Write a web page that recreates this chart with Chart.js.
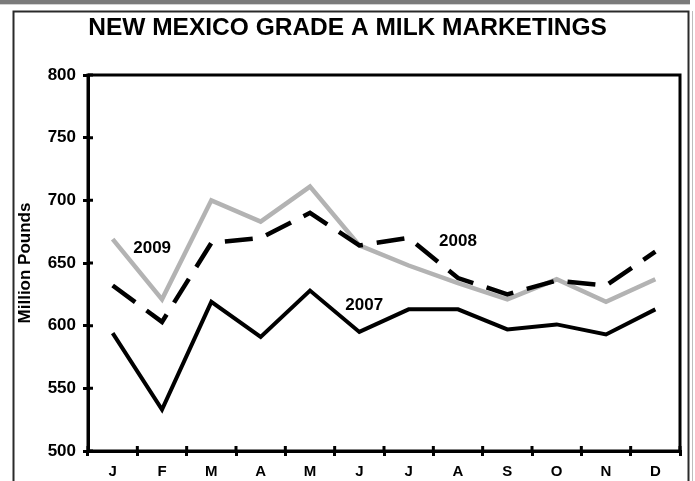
<!DOCTYPE html>
<html>
<head>
<meta charset="utf-8">
<script src="https://cdn.jsdelivr.net/npm/chart.js@4.4.1/dist/chart.umd.min.js"></script>
<style>
  html, body { margin: 0; padding: 0; background: #fff; }
  canvas { display: block; }
</style>
</head>
<body>
<canvas id="milkChart" width="695" height="481"></canvas>
<script>
/* --- données (millions de livres) --- */
const months = ['J', 'F', 'M', 'A', 'M', 'J', 'J', 'A', 'S', 'O', 'N', 'D'];
const milk2007 = [594, 533, 619, 591, 628, 595, 613, 613, 597, 601, 593, 613];
const milk2008 = [632, 603, 666, 670, 690, 664, 670, 638, 625, 636, 632, 659];
const milk2009 = [669, 621, 700, 683, 711, 664, 648, 634, 621, 637, 619, 637];
const yMin = 500, yMax = 800, yStep = 50;

// étiquettes des séries, ancrées en coordonnées de données (index du mois, valeur)
const seriesNames = ['2009', '2007', '2008'];
const seriesAnchorX = [0.8, 5.1, 7.0];
const seriesAnchorY = [662, 616, 667];

const FONT = '"Liberation Sans", Arial, Helvetica, sans-serif';
Chart.defaults.font.family = FONT;
Chart.defaults.font.weight = 'bold';
Chart.defaults.color = '#000';

/* --- cadre, graduations intérieures, étiquettes --- */
const framePlugin = {
  id: 'frame',
  beforeDraw(chart) {
    const ctx = chart.ctx;
    ctx.save();
    ctx.fillStyle = '#fff';
    ctx.fillRect(0, 0, chart.width, chart.height);
    ctx.fillStyle = '#7b7b7b';
    ctx.fillRect(0, 0, 690, 4);
    ctx.fillStyle = '#d2d2d2';
    ctx.fillRect(0, 4, 690, 1);
    ctx.strokeStyle = '#2a2a2a';
    ctx.lineWidth = 2;
    ctx.strokeRect(13.5, 11.5, 675, 480);
    ctx.strokeStyle = '#bdbdbd';
    ctx.lineWidth = 1;
    ctx.beginPath();
    ctx.moveTo(692.5, 11);
    ctx.lineTo(692.5, 481);
    ctx.stroke();
    ctx.restore();
  },
  afterDraw(chart) {
    const { ctx, chartArea: a, scales: { x, y } } = chart;
    ctx.save();
    ctx.strokeStyle = '#000';
    ctx.lineWidth = 3;
    ctx.strokeRect(a.left, a.top, a.right - a.left, a.bottom - a.top);

    ctx.beginPath();
    y.ticks.forEach((t, i) => {
      const py = y.getPixelForTick(i);
      ctx.moveTo(a.left, py);
      ctx.lineTo(a.left + 5, py);
    });
    for (let i = 0; i <= months.length; i++) {
      const px = x.getPixelForValue(i - 0.5);
      ctx.moveTo(px, a.bottom);
      ctx.lineTo(px, a.bottom - 5);
    }
    ctx.stroke();

    ctx.fillStyle = '#000';
    ctx.font = 'bold 17px ' + FONT;
    ctx.textAlign = 'center';
    ctx.textBaseline = 'middle';
    seriesNames.forEach((name, i) => {
      ctx.fillText(name, x.getPixelForValue(seriesAnchorX[i]), y.getPixelForValue(seriesAnchorY[i]));
    });
    ctx.restore();
  }
};

new Chart(document.getElementById('milkChart'), {
  type: 'line',
  data: {
    labels: months,
    datasets: [
      { label: '2007', data: milk2007, borderColor: '#000', borderWidth: 4 },
      { label: '2008', data: milk2008, borderColor: '#000', borderWidth: 4.5, borderDash: [28, 14] },
      { label: '2009', data: milk2009, borderColor: '#b3b3b3', borderWidth: 4.5 }
    ]
  },
  options: {
    responsive: false,
    animation: false,
    devicePixelRatio: 1,
    layout: { padding: 0 },
    elements: {
      point: { radius: 0, hoverRadius: 0 },
      line: { tension: 0, borderJoinStyle: 'miter', borderCapStyle: 'butt', fill: false }
    },
    plugins: {
      legend: { display: false },
      tooltip: { enabled: false },
      title: {
        display: true,
        text: 'NEW MEXICO GRADE A MILK MARKETINGS',
        font: { size: 24.5, weight: 'bold' },
        color: '#000',
        padding: { top: 14, bottom: 31.6 }
      }
    },
    scales: {
      x: {
        offset: true,
        grid: { offset: true, drawOnChartArea: false, drawTicks: true, tickLength: 5, lineWidth: 3, color: '#000' },
        border: { display: true, width: 3, color: '#000' },
        ticks: { font: { size: 15, weight: 'bold' }, padding: 7, maxRotation: 0, autoSkip: false },
        afterFit(scale) { scale.height = 30; }
      },
      y: {
        min: yMin,
        max: yMax,
        grid: { drawOnChartArea: false, drawTicks: true, tickLength: 5, lineWidth: 3, color: '#000' },
        border: { display: true, width: 3, color: '#000' },
        ticks: { stepSize: yStep, font: { size: 17, weight: 'bold' }, padding: 7 },
        title: {
          display: true,
          text: 'Million Pounds',
          font: { size: 17, weight: 'bold' },
          padding: { top: 15, bottom: 0 }
        },
        afterFit(scale) { scale.width = 88; }
      },
      // marge droite (axe vide)
      yRight: {
        position: 'right',
        grid: { display: false },
        border: { display: false },
        ticks: { display: false },
        afterFit(scale) { scale.width = 15; }
      }
    }
  },
  plugins: [framePlugin]
});
</script>
</body>
</html>
